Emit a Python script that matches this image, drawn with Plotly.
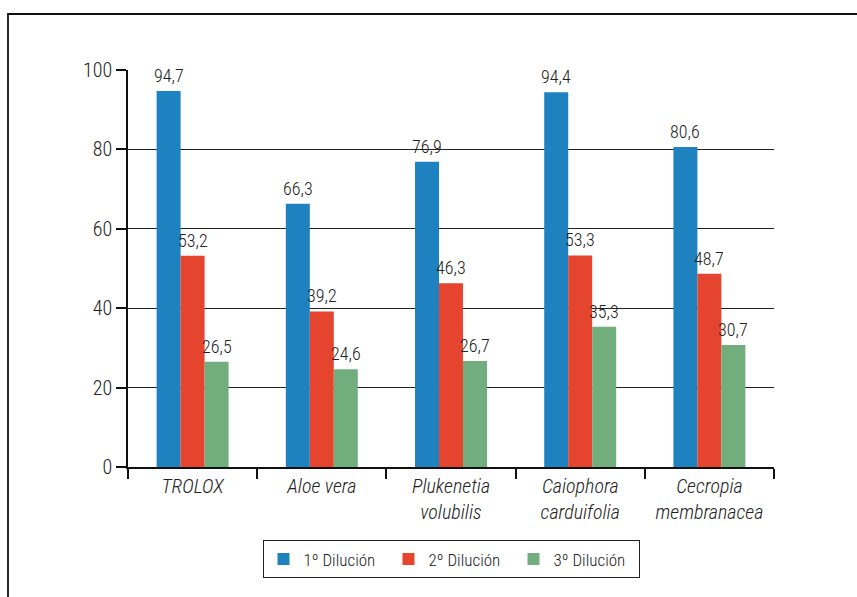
import plotly.graph_objects as go

categories = ["<i>TROLOX</i>", "<i>Aloe vera</i>", "<i>Plukenetia<br>volubilis</i>",
              "<i>Caiophora<br>carduifolia</i>", "<i>Cecropia<br>membranacea</i>"]
series_names = ["1º Dilución", "2º Dilución", "3º Dilución"]
dil1 = [94.7, 66.3, 76.9, 94.4, 80.6]
dil2 = [53.2, 39.2, 46.3, 53.3, 48.7]
dil3 = [26.5, 24.6, 26.7, 35.3, 30.7]
colors = ["#1F82C0", "#E5452F", "#72AD7D"]
y_ticks = [0, 20, 40, 60, 80, 100]

FONT = "Roboto Condensed, sans-serif"
W, H = 857, 597
ML, MR, MT, MB = 128, 83, 70, 130
BARGAP = 0.443

fig = go.Figure()
all_series = [dil1, dil2, dil3]
for name, vals, col in zip(series_names, all_series, colors):
    fig.add_trace(go.Bar(
        x=categories, y=vals, name=name, marker_color=col, marker_line_width=0,
    ))

# data labels above each bar
cat_px = (W - ML - MR) / len(categories)
bar_px = cat_px * (1 - BARGAP) / len(all_series)
annotations = []
for k, vals in enumerate(all_series):
    for cat, v in zip(categories, vals):
        annotations.append(dict(
            x=cat, y=v, xref="x", yref="y", showarrow=False,
            text=f"{v:.1f}".replace(".", ","), yanchor="bottom",
            xshift=(k - 1) * bar_px, yshift=3,
            font=dict(size=18, color="#222", family=FONT, weight=300),
        ))

fig.update_layout(
    width=W, height=H,
    margin=dict(l=ML, r=MR, t=MT, b=MB),
    paper_bgcolor="white", plot_bgcolor="white",
    barmode="group", bargap=BARGAP, bargroupgap=0,
    font=dict(family=FONT, color="#222", size=19, weight=300),
    showlegend=True,
    legend=dict(orientation="h", x=0.5, xanchor="center", y=-0.185, yanchor="top",
                bordercolor="#222", borderwidth=1,
                font=dict(size=17, family=FONT, weight=300),
                itemwidth=30, entrywidth=80, traceorder="normal"),
    xaxis=dict(showline=True, linecolor="#111", linewidth=1.5, ticks="outside",
               tickson="boundaries", ticklen=10, tickwidth=1.5, tickcolor="#111",
               tickangle=0,
               tickfont=dict(size=20, family=FONT, weight=300), showgrid=False),
    yaxis=dict(range=[0, 100], tickvals=y_ticks, showline=True, linecolor="#111",
               linewidth=1.5, ticks="outside", ticklen=10, tickwidth=1.5,
               tickcolor="#111", showgrid=True, gridcolor="#222", gridwidth=1,
               tickfont=dict(size=20, family=FONT, weight=300), zeroline=False),
    annotations=annotations,
    shapes=[dict(type="rect", xref="paper", yref="paper",
                 xsizemode="pixel", ysizemode="pixel", xanchor=0, yanchor=1,
                 x0=-120, x1=800, y0=56, y1=-700,
                 line=dict(color="#111", width=1.8), fillcolor="rgba(0,0,0,0)",
                 layer="below")],
)

fig.write_html("out.html")
